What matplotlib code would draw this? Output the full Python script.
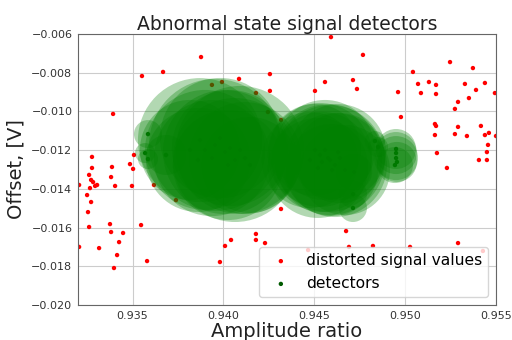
import matplotlib
matplotlib.use("Agg")
import matplotlib.pyplot as plt

# distorted signal values (red points)
red_x = [0.93877, 0.93552, 0.93668, 0.93937, 0.93393, 0.93277, 0.93277, 0.93387, 0.93486, 0.93508,
         0.93503, 0.94592, 0.93992, 0.94086, 0.94256, 0.94179, 0.94256, 0.94504, 0.94559, 0.94713,
         0.94735, 0.94245, 0.94317, 0.94768, 0.95247, 0.95373, 0.95043, 0.95071, 0.95131, 0.95170,
         0.95087, 0.95170, 0.94961, 0.95329, 0.95439, 0.95390, 0.95351, 0.95494, 0.95291, 0.95274,
         0.94977, 0.95164, 0.95170, 0.95291, 0.95417, 0.95164, 0.95274, 0.95340, 0.95439, 0.95461,
         0.95500, 0.95456, 0.95450, 0.95175, 0.95406, 0.95450, 0.95230,
         0.93261, 0.93272, 0.93283, 0.93382, 0.93206, 0.93294, 0.93305, 0.93266, 0.93404, 0.93497,
         0.93618, 0.93250, 0.93272, 0.93739, 0.93255, 0.93376, 0.93547, 0.93261, 0.93382, 0.93448,
         0.93426, 0.93206, 0.93316, 0.93415, 0.93580, 0.93398,
         0.94317, 0.94179, 0.94179, 0.94229, 0.94042, 0.94009, 0.93981, 0.94675, 0.94691, 0.94823,
         0.95027, 0.95291, 0.94466, 0.95428]
red_y = [-0.00719, -0.00817, -0.00796, -0.00863, -0.01013, -0.01235, -0.01292, -0.01287, -0.01272, -0.01225,
         -0.01297, -0.00616, -0.00848, -0.00832, -0.00807, -0.00905, -0.00894, -0.00894, -0.00848, -0.00838,
         -0.00884, -0.01003, -0.01044, -0.00708, -0.00745, -0.00776, -0.00796, -0.00858, -0.00848, -0.00863,
         -0.00905, -0.00910, -0.00900, -0.00858, -0.00853, -0.00889, -0.00931, -0.00905, -0.00951, -0.00987,
         -0.01029, -0.01065, -0.01075, -0.01080, -0.01075, -0.01122, -0.01117, -0.01127, -0.01122, -0.01111,
         -0.01127, -0.01173, -0.01210, -0.01215, -0.01251, -0.01251, -0.01292,
         -0.01328, -0.01354, -0.01365, -0.01339, -0.01380, -0.01385, -0.01380, -0.01396, -0.01385, -0.01385,
         -0.01380, -0.01432, -0.01468, -0.01458, -0.01520, -0.01582, -0.01587, -0.01597, -0.01623, -0.01628,
         -0.01675, -0.01700, -0.01706, -0.01742, -0.01773, -0.01809,
         -0.01504, -0.01633, -0.01664, -0.01680, -0.01664, -0.01695, -0.01778, -0.01618, -0.01700, -0.01695,
         -0.01700, -0.01680, -0.01716, -0.01721]

# detectors: centres and coverage radius (pixels of the original picture)
det_x = [0.93899, 0.94064, 0.94009, 0.93954, 0.93871, 0.94036, 0.94119, 0.93937, 0.93981, 0.93816,
         0.94091, 0.94025, 0.94146, 0.93860, 0.93585, 0.93569, 0.93585, 0.93684,
         0.94587, 0.94531, 0.94559, 0.94614, 0.94476, 0.94641, 0.94520, 0.94669,
         0.94576, 0.94542, 0.94631, 0.94504, 0.94598,
         0.94713, 0.94713, 0.94719, 0.94834, 0.94851,
         0.94950, 0.94950, 0.94950, 0.94955, 0.94944]
det_y = [-0.01199, -0.01251, -0.01210, -0.01173, -0.01148, -0.01189, -0.01241, -0.01241, -0.01137, -0.01199,
         -0.01199, -0.01277, -0.01277, -0.01251, -0.01117, -0.01215, -0.01246, -0.01225,
         -0.01251, -0.01225, -0.01199, -0.01277, -0.01251, -0.01241, -0.01292, -0.01303,
         -0.01241, -0.01261, -0.01210, -0.01199, -0.01303,
         -0.01499, -0.01427, -0.01313, -0.01153, -0.01184,
         -0.01194, -0.01215, -0.01241, -0.01261, -0.01277]
det_r = [60, 62, 62, 66, 62, 58, 56, 58, 60, 50,
         64, 55, 48, 52, 14, 10, 10, 20,
         55, 52, 50, 52, 48, 45, 50, 45,
         54, 50, 48, 46, 46,
         14, 14, 18, 10, 10,
         20, 21, 22, 20, 18]

x_ticks = [0.935, 0.940, 0.945, 0.950, 0.955]
y_ticks = [-0.006, -0.008, -0.010, -0.012, -0.014, -0.016, -0.018, -0.020]

fig = plt.figure(figsize=(5.12, 3.4), dpi=100)
ax = fig.add_axes([78 / 512, 1 - 305 / 340, 418 / 512, 271 / 340])

ax.set_axisbelow(True)
ax.grid(True, color="#cccccc", linewidth=0.8)

ax.scatter(red_x, red_y, s=10, color="red", zorder=2, label="distorted signal values",
           edgecolors="none")
ax.scatter(det_x, det_y, s=10, color="#005a00", zorder=2.5, label="detectors", edgecolors="none")
sizes = [(1.44 * r) ** 2 for r in det_r]
for xv, yv, sv in zip(det_x, det_y, sizes):
    ax.scatter([xv], [yv], s=[sv], color="green", alpha=0.3, edgecolors="none", zorder=3)

ax.set_xlim(0.932, 0.955)
ax.set_ylim(-0.020, -0.006)
ax.set_xticks(x_ticks)
ax.set_yticks(y_ticks)
ax.set_xticklabels([f"{v:.3f}" for v in x_ticks])
ax.set_yticklabels([f"{v:.3f}".replace("-", "\u2212") for v in y_ticks])
ax.tick_params(length=0, labelsize=8, colors="#333333", pad=4)
for s in ax.spines.values():
    s.set_color("#666666")
    s.set_linewidth(0.8)

ax.set_title("Abnormal state signal detectors", fontsize=13.5, color="#222222", pad=3)
ax.set_xlabel("Amplitude ratio", fontsize=14, color="#222222", labelpad=1)
ax.set_ylabel("Offset, [V]", fontsize=14, color="#222222", labelpad=4)

leg = ax.legend(loc="lower right", fontsize=11.2, markerscale=1.0, framealpha=0.8,
                borderpad=0.4, handletextpad=0.6, labelspacing=0.5)
leg.set_zorder(5)

fig.savefig("out.png", dpi=100)
